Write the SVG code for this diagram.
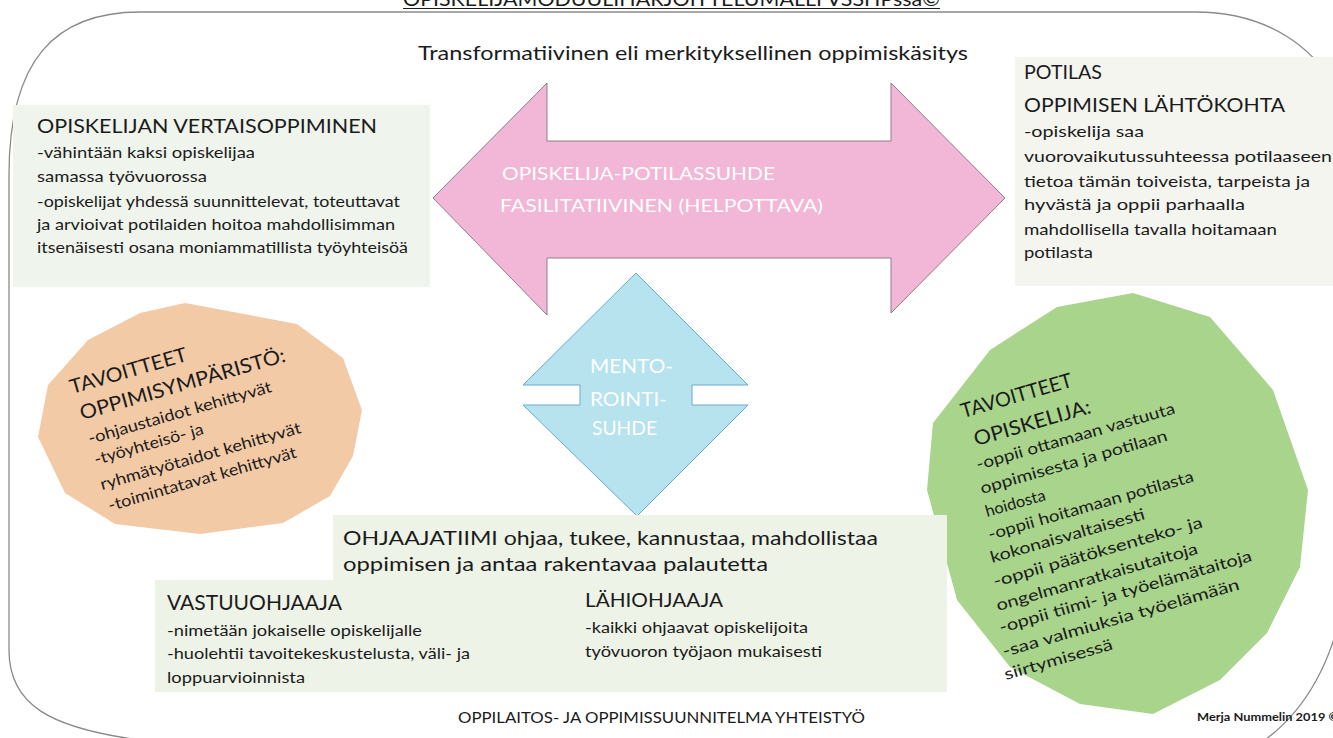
<svg xmlns="http://www.w3.org/2000/svg" width="1333" height="738" viewBox="0 0 1333 738">
<style>
  text { font-family: Lato, "Open Sans", "Liberation Sans", sans-serif; fill: #1b1b1b; }
  .h { font-size: 19px; }
  .b { font-size: 16px; }
  .w { fill: #ffffff; }
  .box { stroke: none; }
  .poly { stroke: none; }
</style>
<rect x="0" y="0" width="1333" height="738" fill="#ffffff"/>

<!-- frame -->
<g id="frame" fill="none" stroke="#8a8a8a" stroke-width="1.3">
  <path d="M 140,12 L 1195,12 C 1265,12 1318,45 1345,105"/>
  <path d="M 140,12 C 55,12 9,60 9,175 L 9,650 C 9,705 50,728 140,740"/>
  <path d="M 1345,590 C 1335,660 1305,712 1262,742"/>
</g>

<g id="title">
  <text x="403" y="6" font-size="20" textLength="537" lengthAdjust="spacingAndGlyphs">OPISKELIJAMODUULIHARJOITTELUMALLI VSSHPssa©</text>
  <line x1="403" y1="8.5" x2="940" y2="8.5" stroke="#1b1b1b" stroke-width="1.2"/>
</g>

<g id="subtitle">
  <text x="418" y="60" class="h" textLength="550" lengthAdjust="spacingAndGlyphs">Transformatiivinen eli merkityksellinen oppimiskäsitys</text>
</g>

<g id="vertaisoppiminen">
  <rect class="box" x="13" y="105" width="417" height="182" fill="#eff4ec"/>
  <text x="37" y="133" class="h" textLength="340" lengthAdjust="spacingAndGlyphs">OPISKELIJAN VERTAISOPPIMINEN</text>
  <text x="37" y="158" class="b" textLength="218" lengthAdjust="spacingAndGlyphs">-vähintään kaksi opiskelijaa</text>
  <text x="37" y="182" class="b" textLength="170" lengthAdjust="spacingAndGlyphs">samassa työvuorossa</text>
  <text x="37" y="207" class="b" textLength="363" lengthAdjust="spacingAndGlyphs">-opiskelijat yhdessä suunnittelevat, toteuttavat</text>
  <text x="37" y="230" class="b" textLength="358" lengthAdjust="spacingAndGlyphs">ja arvioivat potilaiden hoitoa mahdollisimman</text>
  <text x="37" y="253" class="b" textLength="371" lengthAdjust="spacingAndGlyphs">itsenäisesti osana moniammatillista työyhteisöä</text>
</g>

<g id="potilas">
  <rect class="box" x="1015" y="57" width="318" height="229" fill="#f4f5ef"/>
  <text x="1024" y="79" class="h" textLength="78" lengthAdjust="spacingAndGlyphs">POTILAS</text>
  <text x="1024" y="112" class="h" textLength="261" lengthAdjust="spacingAndGlyphs">OPPIMISEN LÄHTÖKOHTA</text>
  <text x="1024" y="137" class="b" textLength="120" lengthAdjust="spacingAndGlyphs">-opiskelija saa</text>
  <text x="1024" y="162" class="b" textLength="308" lengthAdjust="spacingAndGlyphs">vuorovaikutussuhteessa potilaaseen</text>
  <text x="1024" y="187" class="b" textLength="286" lengthAdjust="spacingAndGlyphs">tietoa tämän toiveista, tarpeista ja</text>
  <text x="1024" y="210" class="b" textLength="221" lengthAdjust="spacingAndGlyphs">hyvästä ja oppii parhaalla</text>
  <text x="1024" y="235" class="b" textLength="253" lengthAdjust="spacingAndGlyphs">mahdollisella tavalla hoitamaan</text>
  <text x="1024" y="258" class="b" textLength="69" lengthAdjust="spacingAndGlyphs">potilasta</text>
</g>

<g id="opiskelija-potilassuhde">
  <polygon points="433,198 547,83 547,141 891,141 891,83 1005,198 891,313 891,258 547,258 547,315" fill="#f2b7d6" stroke="#8c7f86" stroke-width="1"/>
  <text x="502" y="180" class="w" font-size="18" textLength="273" lengthAdjust="spacingAndGlyphs">OPISKELIJA-POTILASSUHDE</text>
  <text x="500" y="212" class="w" font-size="18" textLength="323" lengthAdjust="spacingAndGlyphs">FASILITATIIVINEN (HELPOTTAVA)</text>
</g>

<g id="mentorointisuhde">
  <polygon points="636,273 748,385 692,385 692,405 748,405 637,516 523,405 580,405 580,385 523,385" fill="#b6e3ee" stroke="#6aa9cf" stroke-width="1"/>
  <text x="590" y="373" class="w" font-size="20" textLength="83" lengthAdjust="spacingAndGlyphs">MENTO-</text>
  <text x="590" y="406" class="w" font-size="20" textLength="77" lengthAdjust="spacingAndGlyphs">ROINTI-</text>
  <text x="592" y="435" class="w" font-size="20" textLength="65" lengthAdjust="spacingAndGlyphs">SUHDE</text>
</g>

<g id="tavoitteet-oppimisymparisto">
  <polygon class="poly" points="185,303 297,324 343,358 362,410 353,456 330,496 283,523 200,534 115,524 65,493 38,437 48,385 88,340 140,313" fill="#f3caa6"/>
  <text transform="translate(72,394) rotate(-16)" font-size="20" textLength="121" lengthAdjust="spacingAndGlyphs">TAVOITTEET</text>
  <text transform="translate(82,420) rotate(-16)" font-size="20" textLength="213" lengthAdjust="spacingAndGlyphs">OPPIMISYMPÄRISTÖ:</text>
  <text transform="translate(90,444) rotate(-16)" class="b" textLength="190" lengthAdjust="spacingAndGlyphs">-ohjaustaidot kehittyvät</text>
  <text transform="translate(96,465) rotate(-16)" class="b" textLength="113" lengthAdjust="spacingAndGlyphs">-työyhteisö- ja</text>
  <text transform="translate(102,490) rotate(-16)" class="b" textLength="208" lengthAdjust="spacingAndGlyphs">ryhmätyötaidot kehittyvät</text>
  <text transform="translate(110,511) rotate(-16)" class="b" textLength="195" lengthAdjust="spacingAndGlyphs">-toimintatavat kehittyvät</text>
</g>

<g id="tavoitteet-opiskelija">
  <polygon class="poly" points="1133,293 1210,317 1273,390 1308,490 1300,567 1267,633 1220,680 1153,714 1080,704 1010,667 957,600 927,490 933,423 990,350 1057,307" fill="#a9d48c"/>
  <text transform="translate(963,418) rotate(-16)" font-size="20" textLength="115" lengthAdjust="spacingAndGlyphs">TAVOITTEET</text>
  <text transform="translate(976,446) rotate(-16)" font-size="20" textLength="121" lengthAdjust="spacingAndGlyphs">OPISKELIJA:</text>
  <text transform="translate(978,470) rotate(-16)" class="b" textLength="206" lengthAdjust="spacingAndGlyphs">-oppii ottamaan vastuuta</text>
  <text transform="translate(982,494) rotate(-16)" class="b" textLength="194" lengthAdjust="spacingAndGlyphs">oppimisesta ja potilaan</text>
  <text transform="translate(987,517) rotate(-16)" class="b" textLength="62" lengthAdjust="spacingAndGlyphs">hoidosta</text>
  <text transform="translate(990,540) rotate(-16)" class="b" textLength="213" lengthAdjust="spacingAndGlyphs">-oppii hoitamaan potilasta</text>
  <text transform="translate(992,563) rotate(-16)" class="b" textLength="160" lengthAdjust="spacingAndGlyphs">kokonaisvaltaisesti</text>
  <text transform="translate(995,587) rotate(-16)" class="b" textLength="217" lengthAdjust="spacingAndGlyphs">-oppii päätöksenteko- ja</text>
  <text transform="translate(998,611) rotate(-16)" class="b" textLength="209" lengthAdjust="spacingAndGlyphs">ongelmanratkaisutaitoja</text>
  <text transform="translate(1001,633) rotate(-16)" class="b" textLength="262" lengthAdjust="spacingAndGlyphs">-oppii tiimi-  ja työelämätaitoja</text>
  <text transform="translate(1004,657) rotate(-16)" class="b" textLength="246" lengthAdjust="spacingAndGlyphs">-saa valmiuksia työelämään</text>
  <text transform="translate(1006,680) rotate(-16)" class="b" textLength="112" lengthAdjust="spacingAndGlyphs">siirtymisessä</text>
</g>

<g id="ohjaajatiimi">
  <path class="box" d="M 333,515 L 947,515 L 947,692 L 155,692 L 155,580 L 333,580 Z" fill="#eef3e7"/>
  <text x="343" y="545" class="h" textLength="535" lengthAdjust="spacingAndGlyphs">OHJAAJATIIMI ohjaa, tukee,  kannustaa, mahdollistaa</text>
  <text x="343" y="571" class="h" textLength="425" lengthAdjust="spacingAndGlyphs">oppimisen ja antaa rakentavaa palautetta</text>
</g>

<g id="vastuuohjaaja">
  <text x="167" y="610" font-size="21" textLength="175" lengthAdjust="spacingAndGlyphs">VASTUUOHJAAJA</text>
  <text x="167" y="636" class="b" textLength="255" lengthAdjust="spacingAndGlyphs">-nimetään jokaiselle opiskelijalle</text>
  <text x="167" y="659" class="b" textLength="303" lengthAdjust="spacingAndGlyphs">-huolehtii tavoitekeskustelusta, väli- ja</text>
  <text x="167" y="683" class="b" textLength="138" lengthAdjust="spacingAndGlyphs">loppuarvioinnista</text>
</g>

<g id="lahiohjaaja">
  <text x="585" y="607" font-size="20" textLength="138" lengthAdjust="spacingAndGlyphs">LÄHIOHJAAJA</text>
  <text x="585" y="633" class="b" textLength="223" lengthAdjust="spacingAndGlyphs">-kaikki ohjaavat opiskelijoita</text>
  <text x="585" y="657" class="b" textLength="237" lengthAdjust="spacingAndGlyphs">työvuoron työjaon mukaisesti</text>
</g>

<g id="yhteistyo">
  <text x="458" y="723" font-size="16" textLength="407" lengthAdjust="spacingAndGlyphs">OPPILAITOS- JA OPPIMISSUUNNITELMA YHTEISTYÖ</text>
</g>

<g id="credit">
  <text x="1197" y="721" font-size="12" font-weight="bold" textLength="142" lengthAdjust="spacingAndGlyphs">Merja Nummelin 2019 ©</text>
</g>

<g id="connectors"></g>
</svg>
